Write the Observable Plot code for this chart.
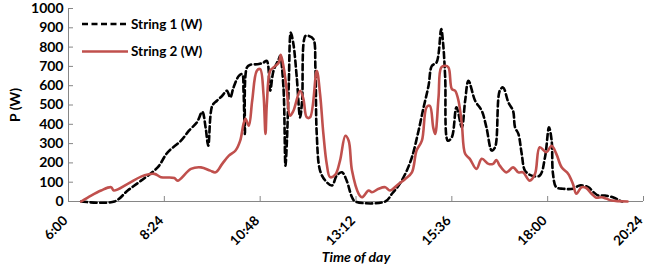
<!DOCTYPE html>
<html><head><meta charset="utf-8">
<script src="https://cdn.jsdelivr.net/npm/d3@7"></script>
<script src="https://cdn.jsdelivr.net/npm/@observablehq/plot@0.6"></script>
<style>
body{margin:0;background:#fff;}
#chart{position:relative;width:655px;height:268px;}
</style></head><body><div id="chart"></div>
<script>
const xTickLabels = ["6:00","8:24","10:48","13:12","15:36","18:00","20:24"];
const yTicks = [0,100,200,300,400,500,600,700,800,900,1000];
const seriesNames = ["String 1 (W)", "String 2 (W)"];
const seriesColors = ["#000000", "#C0504D"];
const xTitle = "Time of day";
const yTitle = "P (W)";

const string1Times = ["6:19","7:09","7:29","7:49","8:14","8:29","8:49","9:01","9:13","9:21","9:26","9:30","9:36","9:43","9:51","9:58","10:03","10:08","10:16","10:21","10:23","10:25","10:28","10:33","10:46","10:53","10:58","11:03","11:08","11:16","11:18","11:23","11:26","11:28","11:31","11:34","11:38","11:43","11:48","11:51","11:56","12:01","12:08","12:11","12:13","12:18","12:26","12:36","12:43","12:51","12:58","13:06","13:11","13:56","14:06","14:16","14:26","14:36","14:46","14:53","15:01","15:06","15:13","15:20","15:23","15:26","15:30","15:36","15:43","15:51","15:56","16:01","16:11","16:21","16:28","16:36","16:41","16:48","16:53","17:01","17:08","17:11","17:16","17:21","17:26","17:36","17:48","17:56","18:02","18:06","18:08","18:13","18:23","18:38","18:48","19:01","19:09","19:16","19:26","19:38","19:48","19:52"];
const string1Watts = [0,0,57,108,177,255,315,367,410,465,384,289,496,522,548,574,539,591,651,660,574,350,694,708,712,720,729,574,677,738,755,591,186,298,608,875,815,643,436,522,858,858,841,694,350,160,108,83,134,151,108,22,0,0,40,83,143,229,367,479,600,703,720,893,815,643,315,333,488,384,522,626,522,470,384,264,281,574,591,513,470,384,350,247,160,134,134,229,384,315,143,74,66,66,83,74,48,31,31,22,5,0];

const string2Times = ["6:19","6:34","6:49","7:04","7:08","7:29","7:49","8:09","8:19","8:39","8:44","9:04","9:19","9:33","9:41","9:51","10:01","10:11","10:18","10:23","10:26","10:31","10:36","10:43","10:48","10:53","10:56","10:58","11:03","11:08","11:16","11:19","11:24","11:28","11:33","11:38","11:48","11:53","11:58","12:03","12:13","12:18","12:23","12:28","12:33","12:41","12:48","12:56","13:01","13:06","13:16","13:21","13:31","13:36","13:46","13:56","14:03","14:16","14:26","14:36","14:43","14:51","14:58","15:03","15:08","15:11","15:16","15:20","15:26","15:31","15:36","15:41","15:46","15:51","15:56","16:03","16:13","16:21","16:31","16:38","16:43","16:48","16:58","17:08","17:16","17:23","17:33","17:41","17:48","17:58","18:06","18:13","18:21","18:31","18:38","18:43","18:51","18:58","19:06","19:13","19:21","19:28","19:36","20:00"];
const string2Watts = [0,31,57,74,57,91,129,143,126,122,108,169,177,160,151,195,238,264,315,402,428,393,522,677,686,557,350,505,677,694,720,760,680,574,445,470,574,531,436,436,677,557,350,195,126,140,212,341,315,160,40,22,57,48,66,74,57,91,117,151,264,315,488,496,384,350,539,694,703,694,583,574,522,402,247,221,169,221,195,195,215,186,151,177,151,151,108,143,281,255,289,247,177,143,91,40,74,70,40,20,22,15,5,0];

const toMin = s => { const [h, m] = s.split(":").map(Number); return h * 60 + m; };
const fmt = v => `${Math.floor(v / 60)}:${String(Math.round(v % 60)).padStart(2, "0")}`;
const s1 = string1Times.map((t, i) => ({t: toMin(t), w: string1Watts[i]}));
const s2 = string2Times.map((t, i) => ({t: toMin(t), w: string2Watts[i]}));
const xTicks = xTickLabels.map(toMin);
const axisColor = "#868686";
const font = "Lato, 'Open Sans', sans-serif";

const plot = Plot.plot({
  width: 655, height: 268,
  marginLeft: 68, marginRight: 12, marginTop: 8, marginBottom: 67,
  style: {fontFamily: font, fontSize: "13px", fontWeight: "bold", color: "#000", background: "#fff"},
  x: {domain: [xTicks[0], xTicks[xTicks.length - 1]]},
  y: {domain: [yTicks[0], yTicks[yTicks.length - 1]]},
  marks: [
    Plot.ruleY([yTicks[0]], {stroke: axisColor, strokeWidth: 1}),
    Plot.ruleX([xTicks[0]], {stroke: axisColor, strokeWidth: 1}),
    Plot.axisY({ticks: yTicks, tickSize: -5, stroke: axisColor, tickPadding: 10, tickFormat: () => "", label: null}),
    Plot.axisY({ticks: yTicks, tickSize: 0, tickPadding: 5, tickFormat: d => String(d), label: null, fontSize: 14, fontWeight: "bold", fill: "#000"}),
    Plot.axisX({ticks: xTicks, tickSize: -5, stroke: axisColor, tickFormat: () => "", label: null}),
    Plot.axisX({ticks: xTicks, tickSize: 0, tickPadding: 17, dx: -3, tickRotate: -45, tickFormat: fmt, label: null, fontSize: 13.5, fontWeight: "bold", fill: "#000"}),
    Plot.line(s1, {x: "t", y: "w", stroke: seriesColors[0], strokeWidth: 2.6, strokeDasharray: "6,3.5", curve: "catmull-rom"}),
    Plot.line(s2, {x: "t", y: "w", stroke: seriesColors[1], strokeWidth: 2.6, curve: "catmull-rom"})
  ]
});
document.getElementById("chart").appendChild(plot);

const svg = d3.select(plot);
// axis titles
svg.append("text").attr("x", 356).attr("y", 262).attr("text-anchor", "middle")
  .attr("font-family", font).attr("font-size", 14).attr("font-weight", "bold").attr("font-style", "italic").text(xTitle);
svg.append("text").attr("transform", "translate(20,105) rotate(-90)").attr("text-anchor", "middle")
  .attr("font-family", font).attr("font-size", 14).attr("font-weight", "bold").text(yTitle);
// legend
seriesNames.forEach((name, i) => {
  const y = 24 + i * 27.5;
  svg.append("line").attr("x1", 82).attr("x2", 128).attr("y1", y).attr("y2", y)
    .attr("stroke", seriesColors[i]).attr("stroke-width", 2.6)
    .attr("stroke-dasharray", i === 0 ? "6,3.5" : null);
  svg.append("text").attr("x", 131).attr("y", y).attr("dy", "0.35em").attr("text-anchor", "start")
    .attr("font-family", font).attr("font-size", 13.5).attr("font-weight", "bold").text(name);
});
</script></body></html>
